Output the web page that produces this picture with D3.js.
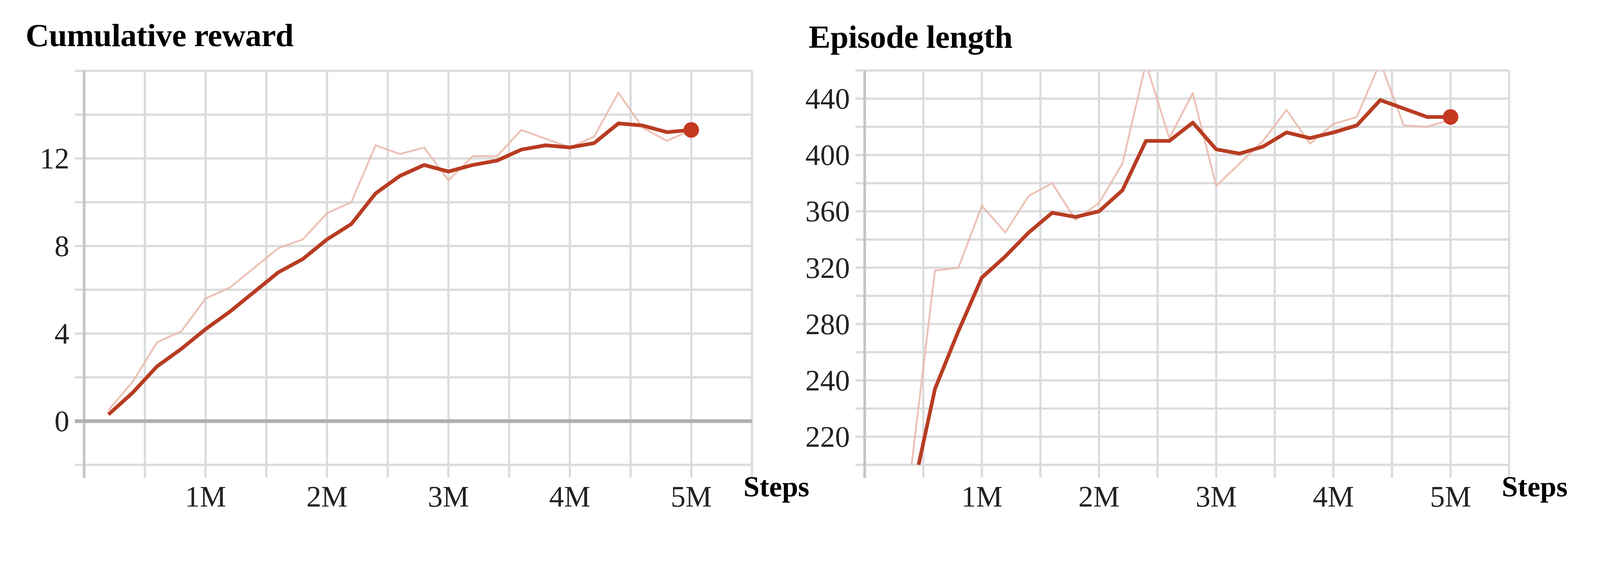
<!DOCTYPE html>
<html>
<head>
<meta charset="utf-8">
<script src="https://cdn.jsdelivr.net/npm/d3@7"></script>
<style>
  html, body { margin: 0; background: #fff; overflow: hidden; }
  svg { display: block; }
</style>
</head>
<body>
<svg id="chart" width="100%" viewBox="0 0 4315 1443" preserveAspectRatio="xMinYMin meet"></svg>
<script>
(function () {
    'use strict';

    // Cumulative reward (step in millions)
    const rewardSteps = [0.2, 0.4, 0.6, 0.8, 1.0, 1.2, 1.4, 1.6, 1.8, 2.0, 2.2, 2.4, 2.6, 2.8, 3.0, 3.2, 3.4, 3.6, 3.8, 4.0, 4.2, 4.4, 4.6, 4.8, 5.0];
    const rewardSmooth = [0.3, 1.3, 2.5, 3.3, 4.2, 5.0, 5.9, 6.8, 7.4, 8.3, 9.0, 10.4, 11.2, 11.7, 11.4, 11.7, 11.9, 12.4, 12.6, 12.5, 12.7, 13.6, 13.5, 13.2, 13.3];
    const rewardRaw = [0.5, 1.8, 3.6, 4.1, 5.6, 6.1, 7.0, 7.9, 8.3, 9.5, 10.0, 12.6, 12.2, 12.5, 11.0, 12.1, 12.1, 13.3, 12.9, 12.5, 13.0, 15.0, 13.4, 12.8, 13.3];
    const rewardTicks = [0, 4, 8, 12];
    const rewardTickLabels = ["0", "4", "8", "12"];

    // Episode length
    const lengthSmoothSteps = [0.46, 0.6, 0.8, 1.0, 1.2, 1.4, 1.6, 1.8, 2.0, 2.2, 2.4, 2.6, 2.8, 3.0, 3.2, 3.4, 3.6, 3.8, 4.0, 4.2, 4.4, 4.6, 4.8, 5.0];
    const lengthSmooth = [180, 234, 275, 313, 328, 345, 359, 356, 360, 375, 410, 410, 423, 404, 401, 406, 416, 412, 416, 421, 439, 433, 427, 427];
    const lengthRawSteps = [0.4, 0.6, 0.8, 1.0, 1.2, 1.4, 1.6, 1.8, 2.0, 2.2, 2.4, 2.6, 2.8, 3.0, 3.2, 3.4, 3.6, 3.8, 4.0, 4.2, 4.4, 4.6, 4.8, 5.0];
    const lengthRaw = [180, 318, 320, 364, 345, 371, 380, 354, 366, 394, 465, 412, 444, 378, 394, 410, 432, 408, 422, 427, 466, 421, 420, 425];
    const lengthTicks = [200, 240, 280, 320, 360, 400, 440];
    const lengthTickLabels = ["220", "240", "280", "320", "360", "400", "440"];

    const xTicks = [1, 2, 3, 4, 5];
    const xTickLabels = ["1M", "2M", "3M", "4M", "5M"];

    const svg = d3.select('#chart');

    function panel(opt) {
        const x = d3.scaleLinear().domain([0, 5.5]).range([opt.left, opt.right]);
        const y = d3.scaleLinear().domain(opt.yDomain).range([opt.bottom, opt.top]);
        const g = svg.append("g");

        // title
        g.append("text")
            .attr("x", opt.titleX).attr("y", opt.titleY)
            .attr("font-family", "Liberation Serif")
            .attr("font-weight", "bold")
            .attr("font-size", 88)
            .attr("textLength", opt.titleLen)
            .text(opt.title);

        // grid
        const grid = g.append("g").attr("stroke", "#dcdcdc").attr("stroke-width", 6);
        grid.selectAll("line.h")
            .data(d3.range(opt.yDomain[0], opt.yDomain[1] + 0.001, opt.yStep))
            .join("line")
            .attr("x1", opt.left - 25).attr("x2", opt.right)
            .attr("y1", d => y(d)).attr("y2", d => y(d));
        grid.selectAll("line.v")
            .data(d3.range(0, 5.51, 0.5))
            .join("line")
            .attr("x1", d => x(d)).attr("x2", d => x(d))
            .attr("y1", opt.top).attr("y2", opt.bottom + 35);

        g.append("line")
            .attr("x1", opt.left).attr("x2", opt.left)
            .attr("y1", opt.top).attr("y2", opt.bottom + 35)
            .attr("stroke", "#c4c4c4").attr("stroke-width", 7);

        if (opt.zero !== undefined) {
            g.append("line")
                .attr("x1", opt.left - 25).attr("x2", opt.right)
                .attr("y1", y(opt.zero)).attr("y2", y(opt.zero))
                .attr("stroke", "#b0b0b0").attr("stroke-width", 10);
        }

        // y tick labels
        g.selectAll("text.yt")
            .data(opt.yTicks)
            .join("text")
            .attr("x", opt.left - 40).attr("y", d => y(d) + 27)
            .attr("text-anchor", "end")
            .attr("font-family", "Liberation Serif")
            .attr("font-size", 80)
            .attr("fill", "#222")
            .text((d, i) => opt.yLabels[i]);

        // x tick labels
        g.selectAll("text.xt")
            .data(xTicks)
            .join("text")
            .attr("x", d => x(d)).attr("y", opt.bottom + 112)
            .attr("text-anchor", "middle")
            .attr("font-family", "Liberation Serif")
            .attr("font-size", 80)
            .attr("fill", "#222")
            .text((d, i) => xTickLabels[i]);

        g.append("text")
            .attr("x", opt.stepsX).attr("y", opt.bottom + 85)
            .attr("font-family", "Liberation Serif")
            .attr("font-weight", "bold")
            .attr("font-size", 78)
            .text("Steps");

        const clipId = "clip" + opt.id;
        svg.append("clipPath").attr("id", clipId)
            .append("rect")
            .attr("x", opt.left).attr("y", opt.top)
            .attr("width", opt.right - opt.left).attr("height", opt.bottom - opt.top);

        const line = d3.line().x(d => x(d[0])).y(d => y(d[1]));
        const lines = g.append("g").attr("clip-path", `url(#${clipId})`).attr("fill", "none")
            .attr("stroke-linejoin", "round");

        lines.append("path")
            .attr("d", line(d3.zip(opt.rawX, opt.raw)))
            .attr("stroke", "#e9b7aa").attr("stroke-opacity", 0.85).attr("stroke-width", 5);
        lines.append("path")
            .attr("d", line(d3.zip(opt.smoothX, opt.smooth)))
            .attr("stroke", "#b83c22").attr("stroke-width", 10);

        const n = opt.smooth.length - 1;
        g.append("circle")
            .attr("cx", x(opt.smoothX[n])).attr("cy", y(opt.smooth[n]))
            .attr("r", 21).attr("fill", "#c4391f");
    }

    panel({
        id: 1, title: "Cumulative reward", titleX: 69, titleY: 124, titleLen: 723,
        left: 227, right: 2028, top: 191, bottom: 1253,
        yDomain: [-2, 16], yStep: 2, zero: 0,
        yTicks: rewardTicks, yLabels: rewardTickLabels,
        stepsX: 2005,
        rawX: rewardSteps, raw: rewardRaw, smoothX: rewardSteps, smooth: rewardSmooth
    });

    panel({
        id: 2, title: "Episode length", titleX: 2181, titleY: 129, titleLen: 550,
        left: 2332, right: 4070, top: 190, bottom: 1253,
        yDomain: [180, 460], yStep: 20,
        yTicks: lengthTicks, yLabels: lengthTickLabels,
        stepsX: 4050,
        rawX: lengthRawSteps, raw: lengthRaw, smoothX: lengthSmoothSteps, smooth: lengthSmooth
    });
}());
</script>
</body>
</html>
